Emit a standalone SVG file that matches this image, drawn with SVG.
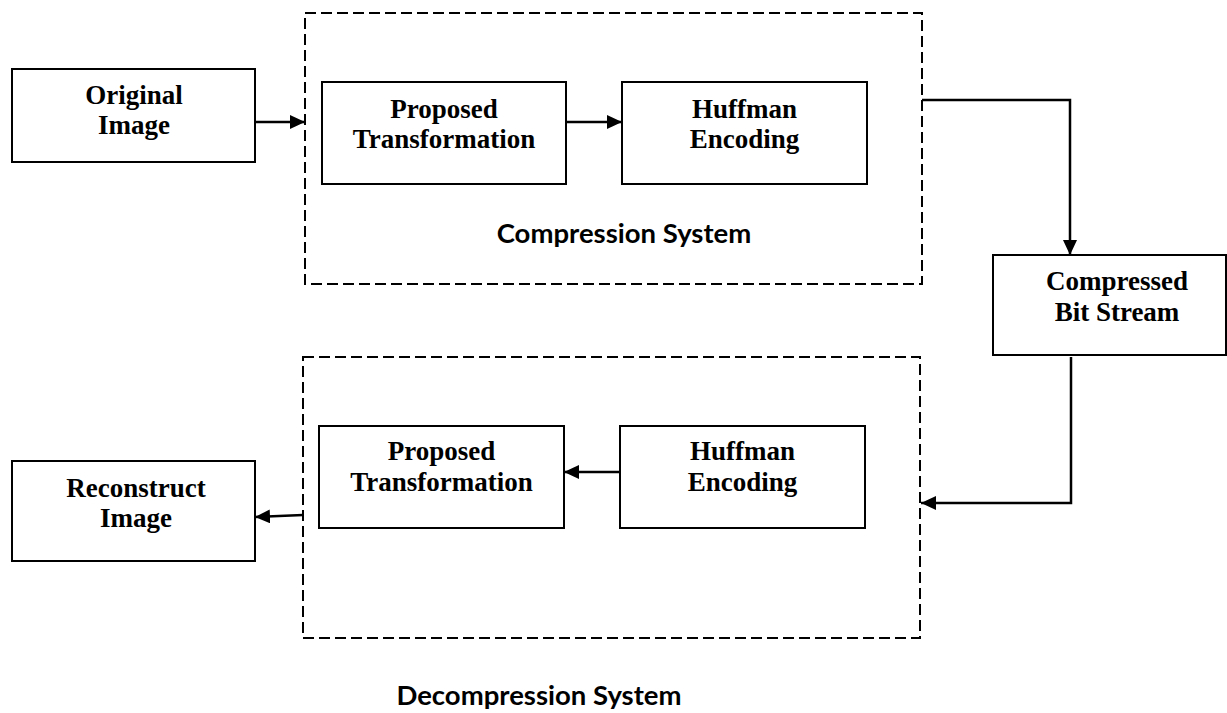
<svg xmlns="http://www.w3.org/2000/svg" width="1227" height="713" viewBox="0 0 1227 713">
<defs>
<style>
.box{fill:#fff;stroke:#000;stroke-width:2}
.dash{fill:none;stroke:#000;stroke-width:2;stroke-dasharray:11 5}
.lbl{font-family:"Liberation Serif","Times New Roman",serif;font-weight:bold;font-size:27px;text-anchor:middle;fill:#000}
.sys{font-family:Lato,"Open Sans",sans-serif;font-weight:bold;font-size:27.5px;text-anchor:middle;fill:#000}
.con{fill:none;stroke:#000;stroke-width:2.5}
</style>
<marker id="ah" viewBox="0 0 15 14" refX="15" refY="7" markerWidth="15" markerHeight="14" markerUnits="userSpaceOnUse" orient="auto">
<path d="M0,0 L15,7 L0,14 Z" fill="#000"/>
</marker>
</defs>
<rect width="1227" height="713" fill="#fff"/>
<g id="compression-system">
<rect class="dash" x="305" y="13" width="617" height="271"/>
<text class="sys" x="624" y="243">Compression System</text>
</g>
<g id="decompression-system">
<rect class="dash" x="303" y="357" width="617" height="281"/>
<text class="sys" x="539" y="705">Decompression System</text>
</g>
<g id="original-image">
<rect class="box" x="12" y="69" width="243" height="93"/>
<text class="lbl" x="134" y="104">Original</text>
<text class="lbl" x="134" y="134">Image</text>
</g>
<g id="proposed-transformation-1">
<rect class="box" x="322" y="82" width="244" height="102"/>
<text class="lbl" x="444" y="118">Proposed</text>
<text class="lbl" x="444" y="148">Transformation</text>
</g>
<g id="huffman-encoding-1">
<rect class="box" x="622" y="82" width="245" height="102"/>
<text class="lbl" x="744.5" y="118">Huffman</text>
<text class="lbl" x="744.5" y="148">Encoding</text>
</g>
<g id="compressed-bit-stream">
<rect class="box" x="993" y="255" width="233" height="100"/>
<text class="lbl" x="1117" y="290">Compressed</text>
<text class="lbl" x="1117" y="321">Bit Stream</text>
</g>
<g id="proposed-transformation-2">
<rect class="box" x="319" y="426" width="245" height="102"/>
<text class="lbl" x="441.5" y="460">Proposed</text>
<text class="lbl" x="441.5" y="491">Transformation</text>
</g>
<g id="huffman-encoding-2">
<rect class="box" x="620" y="426" width="245" height="102"/>
<text class="lbl" x="742.5" y="460">Huffman</text>
<text class="lbl" x="742.5" y="491">Encoding</text>
</g>
<g id="reconstruct-image">
<rect class="box" x="12" y="461" width="243" height="100"/>
<text class="lbl" x="136" y="497">Reconstruct</text>
<text class="lbl" x="136" y="527">Image</text>
</g>
<g id="connectors">
<path class="con" d="M255,122 L305,122" marker-end="url(#ah)"/>
<path class="con" d="M566,122 L622,122" marker-end="url(#ah)"/>
<path class="con" d="M922,100 L1070,100 L1070,255" marker-end="url(#ah)"/>
<path class="con" d="M1071,357 L1071,503 L921,503" marker-end="url(#ah)"/>
<path class="con" d="M620,472 L564,472" marker-end="url(#ah)"/>
<path class="con" d="M303,515 L255,517" marker-end="url(#ah)"/>
</g>
</svg>
